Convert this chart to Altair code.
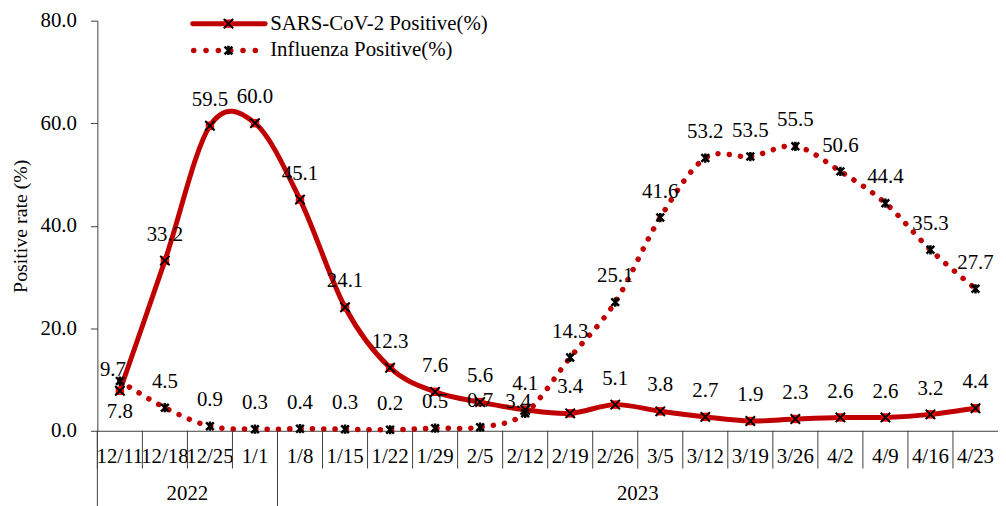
import altair as alt
import pandas as pd

# ---------------- data ----------------
weeks = ["12/11", "12/18", "12/25", "1/1", "1/8", "1/15", "1/22", "1/29", "2/5", "2/12",
         "2/19", "2/26", "3/5", "3/12", "3/19", "3/26", "4/2", "4/9", "4/16", "4/23"]
sars = [7.8, 33.2, 59.5, 60.0, 45.1, 24.1, 12.3, 7.6, 5.6, 4.1,
        3.4, 5.1, 3.8, 2.7, 1.9, 2.3, 2.6, 2.6, 3.2, 4.4]
flu = [9.7, 4.5, 0.9, 0.3, 0.4, 0.3, 0.2, 0.5, 0.7, 3.4,
       14.3, 25.1, 41.6, 53.2, 53.5, 55.5, 50.6, 44.4, 35.3, 27.7]
years = ["2022", "2023"]
weeks_per_year = [4, 16]
series_names = ["SARS-CoV-2 Positive(%)", "Influenza Positive(%)"]
y_ticks = [0, 20, 40, 60, 80]

# ---------------- styles ----------------
RED = "#C00000"
MARK_RED = "#FF0000"
AXIS_COL = "#404040"
FONT = "Liberation Serif"
FS = 21
W, H = 907, 413
X_PATH = "M-1,-1L1,1M-1,1L1,-1"
STAR_PATH = "M-1,-1L1,1M-1,1L1,-1M0,-1.2L0,1.2"

rows = []
for i, w in enumerate(weeks):
    rows.append({"week": w, "series": "sars", "value": sars[i]})
    rows.append({"week": w, "series": "flu", "value": flu[i]})
df = pd.DataFrame(rows)


def place(r):
    if r["series"] == "sars" and r["week"] == weeks[0]:
        return "below"
    if r["series"] == "flu" and r["week"] in (weeks[0], "2/12"):
        return "near"
    return "above"


df["place"] = df.apply(place, axis=1)
df["label"] = df["value"].map(lambda v: f"{v:.1f}")

starts, anchors = [], []
idx = 0
for y, n in zip(years, weeks_per_year):
    starts.append(weeks[idx])
    anchors.append(weeks[idx + n // 2])
    idx += n
years_df = pd.DataFrame({"year": years, "week": starts, "anchor": anchors})
weeks_df = pd.DataFrame({"week": weeks})

xscale = alt.Scale(type="band", domain=weeks, paddingInner=0, paddingOuter=0)
yscale = alt.Scale(domain=[0, 80], nice=False)

xaxis = alt.Axis(title=None, ticks=False, labelAngle=0, labelPadding=15,
                 labelOverlap=False, labelFont=FONT, labelFontSize=FS,
                 labelColor="black", domainColor=AXIS_COL, labelLimit=0, grid=False)
yaxis = alt.Axis(values=y_ticks, format=".1f", title="Positive rate (%)", grid=False,
                 tickSize=7, tickColor=AXIS_COL, domainColor=AXIS_COL,
                 labelFont=FONT, labelFontSize=FS, labelColor="black", labelPadding=14,
                 titleFont=FONT, titleFontSize=20, titleFontWeight="normal",
                 titleColor="black", titleX=-77, titleY=H / 2, titleAngle=-90,
                 titleAlign="center", titleBaseline="middle")


def xenc(field="week", band=0.5):
    return alt.X(f"{field}:N", scale=xscale, axis=xaxis, bandPosition=band)


Y = alt.Y("value:Q", scale=yscale, axis=yaxis)

base = alt.Chart(df)
sars_b = base.transform_filter(alt.datum.series == "sars")
flu_b = base.transform_filter(alt.datum.series == "flu")

sars_line = sars_b.mark_line(interpolate="cardinal", tension=0, color=RED,
                             strokeWidth=5).encode(x=xenc(), y=Y)
flu_line = flu_b.mark_line(interpolate="cardinal", tension=0, color=RED,
                           strokeWidth=5.5, strokeDash=[0.1, 11.3],
                           strokeCap="round").encode(x=xenc(), y=Y)
sars_sq = sars_b.mark_point(shape="square", filled=True, color=MARK_RED, size=72,
                            opacity=1).encode(x=xenc(), y=Y)
sars_x = sars_b.mark_point(shape=X_PATH, filled=False, color="black", strokeWidth=2,
                           size=90, opacity=1).encode(x=xenc(), y=Y)
flu_star = flu_b.mark_point(shape=STAR_PATH, filled=False, color="black",
                            strokeWidth=2.5, size=60, opacity=1).encode(x=xenc(), y=Y)


def labels(where, dy, dx=0):
    return base.transform_filter(alt.datum.place == where).mark_text(
        font=FONT, fontSize=FS, color="black", dy=dy, dx=dx, baseline="middle",
        align="center"
    ).encode(x=xenc(), y=Y, text="label:N")


lab_above = labels("above", -26)
lab_below = labels("below", 21)
lab_near = labels("near", -11, -7)

seps = alt.Chart(weeks_df).mark_rule(color=AXIS_COL, strokeWidth=1).encode(
    x=xenc("week", 0), y=alt.value(H), y2=alt.value(H + 38))
year_seps = alt.Chart(years_df).mark_rule(color=AXIS_COL, strokeWidth=1).encode(
    x=xenc("week", 0), y=alt.value(H), y2=alt.value(H + 76))
year_text = alt.Chart(years_df).mark_text(font=FONT, fontSize=FS, color="black",
                                          baseline="middle", align="center").encode(
    x=xenc("anchor", 0), y=alt.value(H + 64), text="year:N")

# ---------------- legend ----------------
LEG_X0, LEG_X1, LEG_XM, LEG_TX = 96, 169, 132, 174
LEG_Y = [3, 30]
leg1 = pd.DataFrame({"name": [series_names[0]]})
leg2 = pd.DataFrame({"name": [series_names[1]]})
legend = [
    alt.Chart(leg1).mark_rule(color=RED, strokeWidth=5, strokeCap="round").encode(
        x=alt.value(LEG_X0), x2=alt.value(LEG_X1), y=alt.value(LEG_Y[0])),
    alt.Chart(leg1).mark_point(shape="square", filled=True, color=MARK_RED, size=72,
                               opacity=1).encode(x=alt.value(LEG_XM), y=alt.value(LEG_Y[0])),
    alt.Chart(leg1).mark_point(shape=X_PATH, filled=False, color="black", strokeWidth=2,
                               size=90, opacity=1).encode(x=alt.value(LEG_XM), y=alt.value(LEG_Y[0])),
    alt.Chart(leg1).mark_text(font=FONT, fontSize=FS, color="black", align="left",
                              baseline="middle").encode(x=alt.value(LEG_TX), y=alt.value(LEG_Y[0]),
                                                        text="name:N"),
    alt.Chart(leg2).mark_rule(color=RED, strokeWidth=5.5, strokeDash=[0.1, 12.3],
                              strokeCap="round").encode(
        x=alt.value(LEG_X0 + 1), x2=alt.value(LEG_X1 - 8), y=alt.value(LEG_Y[1])),
    alt.Chart(leg2).mark_point(shape=STAR_PATH, filled=False, color="black",
                               strokeWidth=2.5, size=60, opacity=1).encode(
        x=alt.value(LEG_XM), y=alt.value(LEG_Y[1])),
    alt.Chart(leg2).mark_text(font=FONT, fontSize=FS, color="black", align="left",
                              baseline="middle").encode(x=alt.value(LEG_TX), y=alt.value(LEG_Y[1]),
                                                        text="name:N"),
]

chart = alt.layer(
    sars_line, flu_line, seps, year_seps, year_text,
    sars_sq, sars_x, flu_star, lab_above, lab_below, lab_near, *legend
).properties(
    width=W, height=H,
    padding={"left": 90, "top": 11, "right": 0, "bottom": 74},
    autosize=alt.AutoSizeParams(type="none"),
    background="white",
).configure_view(stroke=None)

chart.save("out.html", embed_options={"renderer": "svg", "actions": False})
